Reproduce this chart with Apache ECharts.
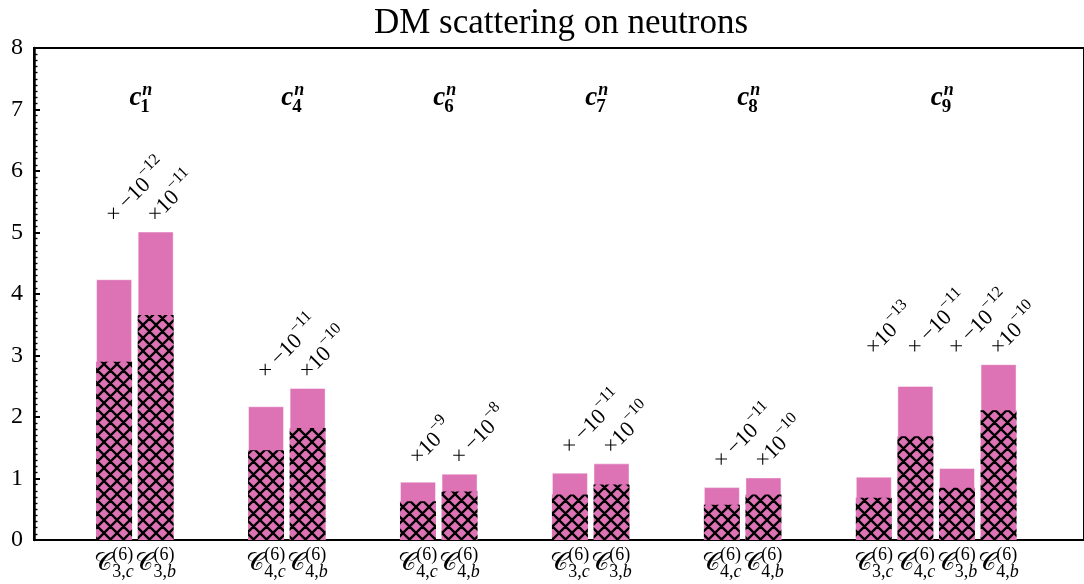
<!DOCTYPE html>
<html><head><meta charset="utf-8">
<script src="https://cdn.jsdelivr.net/npm/echarts@6/dist/echarts.min.js"></script>
<style>html,body{margin:0;padding:0;background:#fff}#c{width:1084px;height:584px}</style>
</head><body><div id="c"></div>
<script>
// ---- data ----
const coefNames = ['1', '4', '6', '7', '8', '9'];           // c_i^n group labels
const barGroup  = [0, 0, 1, 1, 2, 2, 3, 3, 4, 4, 5, 5, 5, 5];
const barSlot   = [0, 1, 0, 1, 0, 1, 0, 1, 0, 1, 0, 1, 2, 3];
const barSub    = ['3,c', '3,b', '4,c', '4,b', '4,c', '4,b', '3,c', '3,b', '4,c', '4,b', '3,c', '4,c', '3,b', '4,b'];
const totalVals = [4.24, 5.015, 2.175, 2.473, 0.948, 1.079, 1.095, 1.246, 0.860, 1.018, 1.030, 2.506, 1.170, 2.859];
const hatchVals = [2.90, 3.66, 1.459, 1.822, 0.632, 0.790, 0.741, 0.904, 0.574, 0.741, 0.688, 1.686, 0.851, 2.110];
const scaleNeg  = [true, false, true, false, false, true, true, false, true, false, false, true, true, false];
const scaleExp  = [-12, -11, -11, -10, -9, -8, -11, -10, -11, -10, -13, -11, -12, -10];
const yTickLabels = ['0', '1', '2', '3', '4', '5', '6', '7', '8'];
const titleText = 'DM scattering on neutrons';

// ---- layout constants ----
const SLOT = 0.2737;           // bar pitch in group units
const COEF_LABEL_Y = 7.15;
const PINK = '#dd72b4';
const SERIF = "'Liberation Serif', 'DejaVu Serif', serif";

const barX = barGroup.map((g, i) => g - SLOT / 2 + barSlot[i] * SLOT);
const groupMax = coefNames.map((_, g) => Math.max(...totalVals.filter((v, i) => barGroup[i] === g)));
const groupCenter = coefNames.map((_, g) => {
  const xs = barX.filter((x, i) => barGroup[i] === g);
  return xs.reduce((a, b) => a + b, 0) / xs.length;
});

// ---- text helpers ----
const mctx = document.createElement('canvas').getContext('2d');
function tw(font, t) { mctx.font = font; return mctx.measureText(t).width; }
function fnt(size, style, weight, fam) { return (style || 'normal') + ' ' + (weight || 'normal') + ' ' + size + 'px ' + (fam || SERIF); }
function buildRuns(cols) {
  let x = 0; const ch = [];
  cols.forEach(col => {
    let mw = 0;
    col.forEach(p => {
      let sx = x + (p.dx || 0);
      p.segs.forEach(s => {
        ch.push({ type: 'text', x: sx, y: p.dy || 0, silent: true,
          style: { text: s.t, font: s.font, fill: '#000', align: 'left', verticalAlign: 'middle' } });
        sx += tw(s.font, s.t);
      });
      mw = Math.max(mw, sx - x);
    });
    x += mw;
  });
  return { children: ch, width: x };
}

// ---- hatch pattern ----
const T = 13;
const hc = document.createElement('canvas'); hc.width = T; hc.height = T;
const hg = hc.getContext('2d');
hg.fillStyle = PINK; hg.fillRect(0, 0, T, T);
hg.strokeStyle = '#000'; hg.lineWidth = 2.3; hg.beginPath();
for (const o of [-T, 0, T]) { hg.moveTo(o, 0); hg.lineTo(o + T, T); hg.moveTo(o + T, 0); hg.lineTo(o, T); }
hg.stroke();

const chart = echarts.init(document.getElementById('c'), null, { renderer: 'canvas' });
const titleFont = fnt(35);
const GRID_L = 34, GRID_R = -8;
const X0PX = 135.65, PXU = 153.1;
const xMin = (GRID_L - X0PX) / PXU;
const xMax = (1084 - GRID_R - X0PX) / PXU;

chart.setOption({
  animation: false,
  title: { text: titleText, left: 561 - tw(titleFont, titleText) / 2, top: 6, padding: 0,
    textStyle: { fontFamily: SERIF, fontSize: 35, fontWeight: 'normal', color: '#000' } },
  grid: { left: GRID_L, right: GRID_R, top: 48, bottom: 44, show: true, borderColor: '#000', borderWidth: 2 },
  xAxis: { type: 'value', min: xMin, max: xMax,
    axisLine: { show: true, onZero: false, lineStyle: { color: '#000', width: 2 } },
    axisTick: { show: false }, axisLabel: { show: false }, splitLine: { show: false } },
  yAxis: { type: 'value', min: 0, max: 8, interval: 1,
    axisLine: { show: true, onZero: false, lineStyle: { color: '#000', width: 2.5 } },
    axisTick: { show: true, inside: true, length: 6, lineStyle: { color: '#000', width: 2 } },
    minorTick: { show: true, splitNumber: 10, length: 3.5, lineStyle: { color: '#000', width: 1.4 } },
    splitLine: { show: false },
    axisLabel: { margin: 11, fontFamily: SERIF, fontSize: 24, color: '#000',
      formatter: v => yTickLabels[Math.round(v)] } },
  series: [
    { type: 'bar', data: barX.map((x, i) => [x, totalVals[i]]), barWidth: 36, barGap: '-100%', silent: true,
      itemStyle: { color: PINK, borderColor: 'rgba(255,255,255,0.45)', borderWidth: 1 }, z: 2 },
    { type: 'bar', data: barX.map((x, i) => [x, hatchVals[i]]), barWidth: 36, barGap: '-100%', silent: true,
      itemStyle: { color: { image: hc, repeat: 'repeat' } }, z: 3 },
    // rotated scale annotations
    { type: 'custom', coordinateSystem: 'cartesian2d', silent: true, z: 5,
      data: barX.map((x, i) => [x, groupMax[barGroup[i]]]),
      renderItem: (params, api) => {
        const i = params.dataIndex;
        const c = api.coord([api.value(0), api.value(1)]);
        const bf = fnt(22), sf = fnt(16);
        const r = buildRuns([
          [{ segs: [{ t: scaleNeg[i] ? '× −10' : '×10', font: bf }] }],
          [{ segs: [{ t: '−' + Math.abs(scaleExp[i]), font: sf }], dy: -10 }]
        ]);
        return { type: 'group', x: c[0] - 4, y: c[1] - 13, rotation: Math.PI / 4, children: r.children };
      } },
    // x labels C^{(6)}_{i,x}
    { type: 'custom', coordinateSystem: 'cartesian2d', silent: true, z: 5,
      data: barX.map(x => [x, 0]),
      renderItem: (params, api) => {
        const i = params.dataIndex;
        const c = api.coord([api.value(0), 0]);
        const parts = barSub[i].split(',');
        const r = buildRuns([
          [{ segs: [{ t: '𝒞', font: fnt(25, 'normal', 'normal', "'DejaVu Serif', 'DejaVu Sans', serif") }], dy: 23 }],
          [{ segs: [{ t: '(6)', font: fnt(18) }], dy: 15, dx: 0 },
           { segs: [{ t: parts[0] + ',', font: fnt(18) }, { t: parts[1], font: fnt(18, 'italic') }], dy: 32 }]
        ]);
        return { type: 'group', x: c[0] - r.width / 2, y: c[1], children: r.children };
      } },
    // group labels c_i^n
    { type: 'custom', coordinateSystem: 'cartesian2d', silent: true, z: 5,
      data: groupCenter.map(x => [x, COEF_LABEL_Y]),
      renderItem: (params, api) => {
        const g = params.dataIndex;
        const c = api.coord([api.value(0), api.value(1)]);
        const r = buildRuns([
          [{ segs: [{ t: 'c', font: fnt(27, 'italic', 'bold') }], dy: -2 }],
          [{ segs: [{ t: 'n', font: fnt(18, 'italic', 'bold') }], dy: -10, dx: 1 },
           { segs: [{ t: coefNames[g], font: fnt(19, 'normal', 'bold') }], dy: 7, dx: -1 }]
        ]);
        return { type: 'group', x: c[0] + 6 - r.width / 2, y: c[1], children: r.children };
      } }
  ]
});
</script></body></html>
